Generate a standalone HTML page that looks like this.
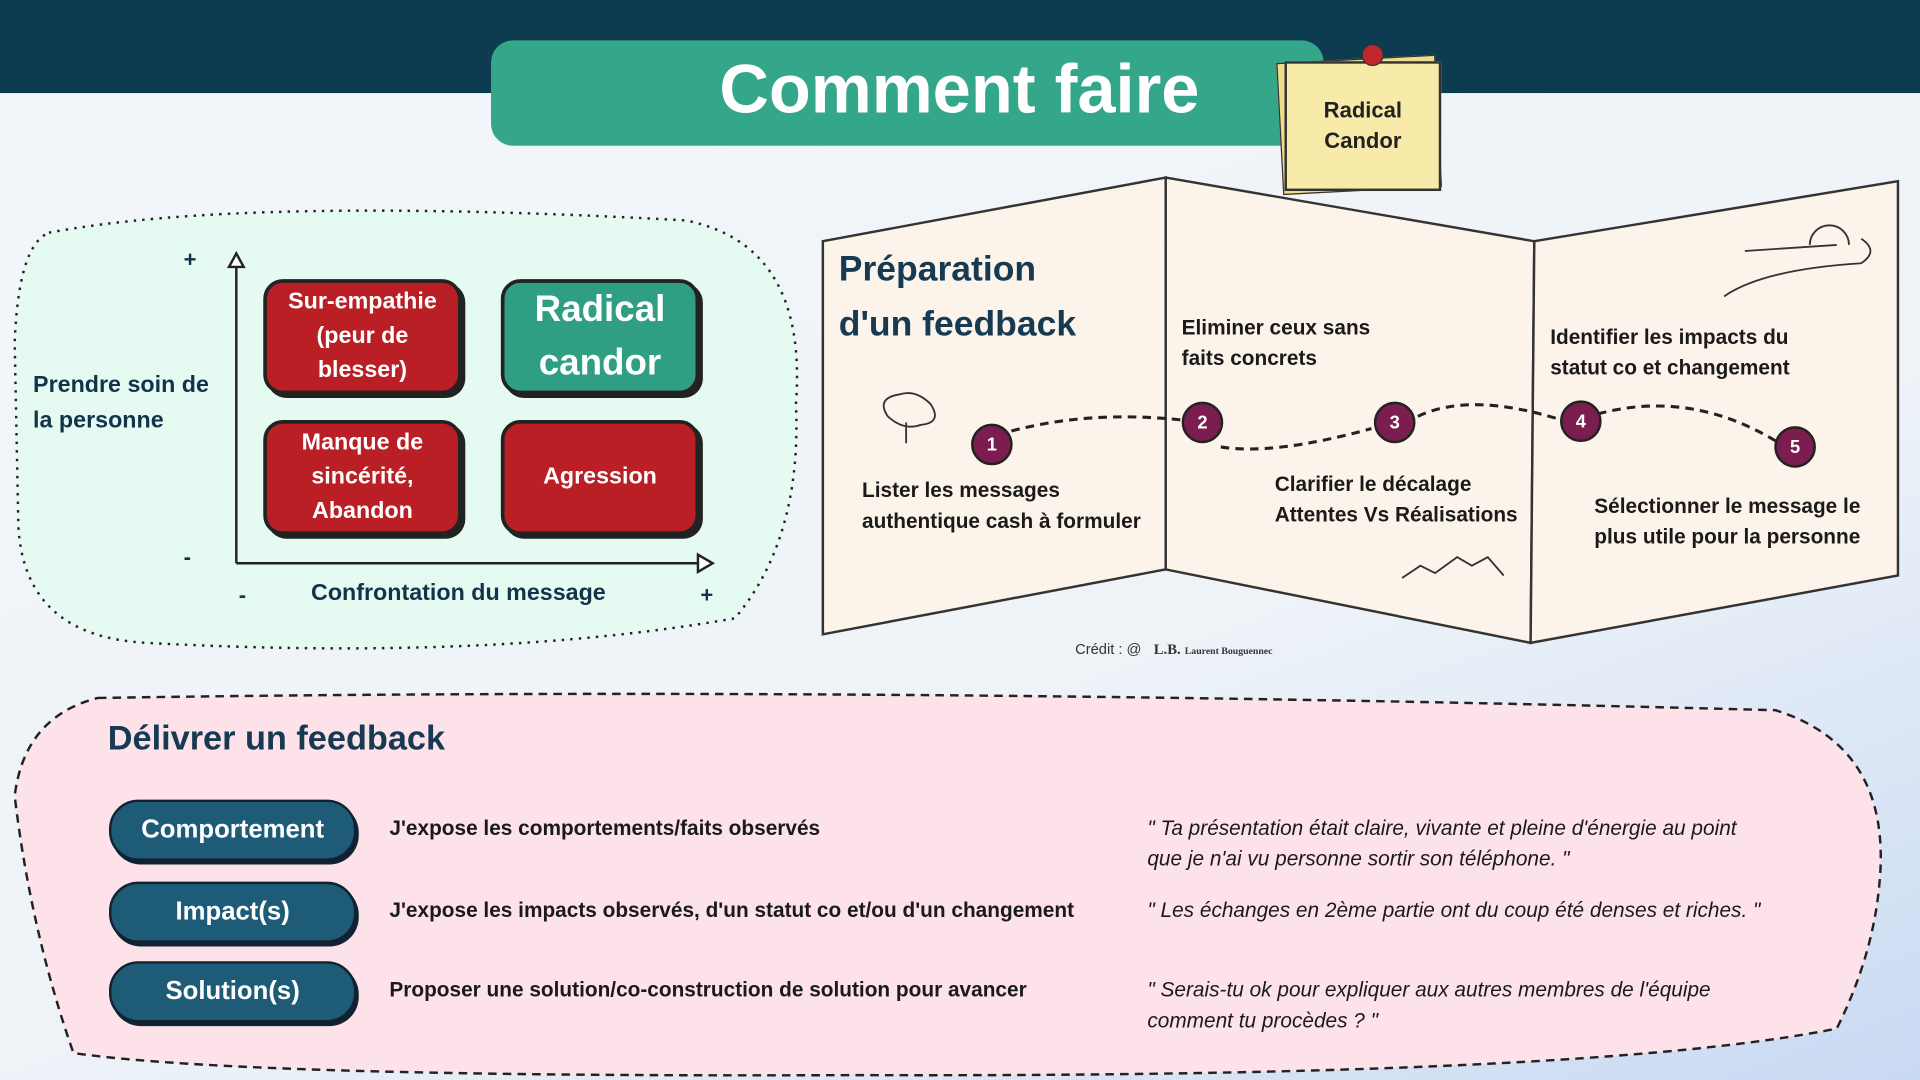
<!DOCTYPE html>
<html><head><meta charset="utf-8"><style>
html,body{margin:0;padding:0;width:1920px;height:1080px;overflow:hidden}
#w{position:absolute;left:0;top:0;width:1568px;height:882px;transform:scale(1.22449);transform-origin:0 0;font-family:"Liberation Sans","DejaVu Sans",sans-serif;background:linear-gradient(160deg,#f3f7fa 0%,#eef3f8 60%,#c9daf3 100%);overflow:hidden}
.a{position:absolute}
.t{color:#12334a;font-weight:bold}
.box{position:absolute;border:3px solid #222;border-radius:16px;color:#fff;font-weight:bold;display:flex;align-items:center;justify-content:center;text-align:center;box-shadow:3px 3px 0 #222}
.pill{position:absolute;left:89px;width:198px;height:46px;background:#1d5b77;border:2px solid #123;border-radius:24px;color:#fff;font-weight:bold;font-size:21px;display:flex;align-items:center;justify-content:center;box-shadow:2px 3px 0 #123}
.num{position:absolute;width:30px;height:30px;border-radius:50%;background:#7b1d4f;border:2px solid #222;color:#fff;font-weight:bold;font-size:15px;display:flex;align-items:center;justify-content:center}
.dk{color:#1a1a1a;font-weight:bold;font-size:17px;line-height:25px}
.q{color:#1a1a1a;font-style:italic;font-size:17px;line-height:25px}
</style></head><body><div id="w">
<div class="a" style="left:0;top:0;width:1568px;height:76px;background:#0d3b50"></div>
<div class="a" style="left:401px;top:33px;width:680px;height:86px;background:#34a68a;border-radius:18px"></div>
<div class="a" style="left:401px;top:40px;width:765px;text-align:center;color:#fff;font-weight:bold;font-size:56px">Comment faire</div>
<div class="a" style="left:1045px;top:48px;width:128px;height:106px;background:#f0dc8c;transform:rotate(-3deg);border:1px solid #333"></div>
<div class="a" style="left:1049px;top:50px;width:124px;height:102px;background:#f8eaa8;border:2px solid #333;display:flex;align-items:center;justify-content:center;text-align:center;font-weight:bold;font-size:18px;line-height:25px;color:#222">Radical<br>Candor</div>
<div class="a" style="left:1112px;top:36px;width:16px;height:16px;border-radius:50%;background:#c0282d;border:1px solid #333"></div>

<svg class="a" style="left:0;top:0" width="1568" height="882">
<path d="M40,190 Q200,160 560,180 Q660,200 650,330 Q655,440 600,505 Q400,540 120,525 Q20,520 15,430 L12,280 Q15,200 40,190Z" fill="#e5fbf2" stroke="#222" stroke-width="2" stroke-dasharray="2,5"/>
<path d="M80,570 Q700,560 1450,580 Q1545,610 1535,720 Q1530,780 1500,840 Q1300,880 700,878 Q200,880 60,860 Q25,760 12,650 Q20,585 80,570Z" fill="#fde2ea" stroke="#222" stroke-width="2" stroke-dasharray="7,5"/>
<line x1="193" y1="212" x2="193" y2="460" stroke="#222" stroke-width="2"/>
<path d="M187,218 L193,207 L199,218Z" fill="#fff" stroke="#222" stroke-width="2"/>
<line x1="193" y1="460" x2="575" y2="460" stroke="#222" stroke-width="2"/>
<path d="M570,453 L582,460 L570,467Z" fill="#fff" stroke="#222" stroke-width="2"/>
<g fill="#fcf3ea" stroke="#333" stroke-width="2">
<path d="M672,197 L952,145 L952,465 L672,518Z"/>
<path d="M952,145 L1253,197 L1250,525 L952,465Z"/>
<path d="M1253,197 L1550,148 L1550,470 L1250,525Z"/>
</g>
<path d="M826,352 Q890,335 965,343 M997,365 Q1040,372 1120,350 M1158,340 Q1200,320 1272,342 M1305,338 Q1380,318 1450,360" fill="none" stroke="#222" stroke-width="2.5" stroke-dasharray="7,5"/>
<path d="M1145,472 L1160,462 L1172,468 L1190,455 L1202,462 L1215,455 L1228,470" fill="none" stroke="#333" stroke-width="1.5"/>
<path d="M1425,205 L1500,200 M1478,200 A16,16 0 0 1 1510,200 M1408,242 Q1440,220 1520,215 Q1535,205 1520,195" fill="none" stroke="#333" stroke-width="1.5"/>
<path d="M740,345 L740,362 M725,340 Q715,325 735,322 Q748,318 760,330 Q770,345 752,347 Q738,352 725,340Z" fill="none" stroke="#333" stroke-width="1.5"/>
</svg>

<div class="a t" style="left:150px;top:202px;font-size:18px">+</div>
<div class="a t" style="left:150px;top:445px;font-size:18px">-</div>
<div class="a t" style="left:195px;top:476px;font-size:18px">-</div>
<div class="a t" style="left:572px;top:476px;font-size:18px">+</div>
<div class="a t" style="left:27px;top:300px;font-size:19px;line-height:29px">Prendre soin de<br>la personne</div>
<div class="a t" style="left:254px;top:474px;font-size:19px">Confrontation du message</div>
<div class="box" style="left:215px;top:228px;width:156px;height:88px;background:#b91f24;font-size:19px;line-height:28px">Sur-empathie<br>(peur de<br>blesser)</div>
<div class="box" style="left:409px;top:228px;width:156px;height:88px;background:#2f9e82;font-size:30px;line-height:44px">Radical<br>candor</div>
<div class="box" style="left:215px;top:343px;width:156px;height:88px;background:#b91f24;font-size:19px;line-height:28px">Manque de<br>sincérité,<br>Abandon</div>
<div class="box" style="left:409px;top:343px;width:156px;height:88px;background:#b91f24;font-size:19px">Agression</div>

<div class="a t" style="left:685px;top:198px;font-size:29px;line-height:45px;color:#163a52">Préparation<br>d'un feedback</div>
<div class="num" style="left:793px;top:346px">1</div>
<div class="num" style="left:965px;top:328px">2</div>
<div class="num" style="left:1122px;top:328px">3</div>
<div class="num" style="left:1274px;top:327px">4</div>
<div class="num" style="left:1449px;top:348px">5</div>
<div class="a dk" style="left:704px;top:388px">Lister les messages<br>authentique cash à formuler</div>
<div class="a dk" style="left:965px;top:255px">Eliminer ceux sans<br>faits concrets</div>
<div class="a dk" style="left:1041px;top:383px">Clarifier le décalage<br>Attentes Vs Réalisations</div>
<div class="a dk" style="left:1266px;top:263px">Identifier les impacts du<br>statut co et changement</div>
<div class="a dk" style="left:1302px;top:401px">Sélectionner le message le<br>plus utile pour la personne</div>
<div class="a" style="left:878px;top:523px;font-size:12px;color:#333">Crédit : @ &nbsp;&nbsp;<b style="font-family:'Liberation Serif',serif">L.B.</b> <span style="font-size:8px;font-family:'Liberation Serif',serif;font-weight:bold">Laurent Bouguennec</span></div>

<div class="a t" style="left:88px;top:587px;font-size:28px;color:#163a52">Délivrer un feedback</div>
<div class="pill" style="top:653px">Comportement</div>
<div class="pill" style="top:720px">Impact(s)</div>
<div class="pill" style="top:785px">Solution(s)</div>
<div class="a dk" style="left:318px;top:664px">J'expose les comportements/faits observés</div>
<div class="a dk" style="left:318px;top:731px">J'expose les impacts observés, d'un statut co et/ou d'un changement</div>
<div class="a dk" style="left:318px;top:796px">Proposer une solution/co-construction de solution pour avancer</div>
<div class="a q" style="left:937px;top:664px">" Ta présentation était claire, vivante et pleine d'énergie au point<br>que je n'ai vu personne sortir son téléphone. "</div>
<div class="a q" style="left:937px;top:731px">" Les échanges en 2ème partie ont du coup été denses et riches. "</div>
<div class="a q" style="left:937px;top:796px">" Serais-tu ok pour expliquer aux autres membres de l'équipe<br>comment tu procèdes ? "</div>
</div></body></html>
